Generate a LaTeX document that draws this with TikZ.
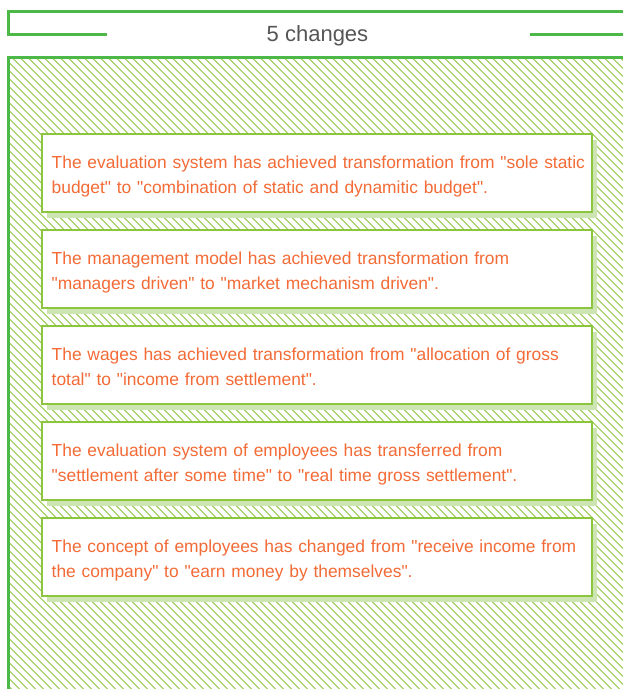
\documentclass[tikz,border=0pt]{standalone}
\usepackage{fontspec}
\setmainfont{Liberation Sans}[Ligatures=TeXOff]
\usetikzlibrary{shadows}
\definecolor{framec}{HTML}{4CB848}
\definecolor{boxc}{HTML}{8CC63F}
\definecolor{shadowc}{HTML}{CDE5B2}
\definecolor{hatchc}{HTML}{8CC63F}
\definecolor{textc}{HTML}{F36B36}
\definecolor{titlec}{HTML}{555555}
\tikzset{
  framel/.style={draw=framec, line width=3pt},
  hatchl/.style={draw=hatchc, line width=0.9pt},
  itembox/.style={draw=boxc, fill=white, line width=2.5pt, minimum width=550pt, minimum height=78pt, anchor=north west, inner sep=0pt, outer sep=0pt,
    drop shadow={shadow xshift=5pt, shadow yshift=-6pt, fill=shadowc, opacity=1}},
  itemtxt/.style={anchor=base west, inner sep=0pt, text=textc, text width=545pt, align=left, font=\fontsize{17.4pt}{25pt}\selectfont},
  titletxt/.style={anchor=base, inner sep=0pt, text=titlec, font=\fontsize{22pt}{26pt}\selectfont}
}
\begin{document}
\begin{tikzpicture}[x=1pt,y=-1pt]
\useasboundingbox (0,0) rectangle (623,689);
\begin{scope}
\clip (0,0) rectangle (623,689);
% header
\draw[framel] (107,34) -- (8,34) -- (8,11.5) -- (640,11.5);
\draw[framel] (530,34) -- (640,34);
\node[titletxt] (title) at (317.5,41) {5 changes};
% hatched main frame
\begin{scope}
\clip (8,57.5) rectangle (640,700);
\foreach \i in {-700,-692,...,640} \draw[hatchl] (\i,57.5) -- ++(700,700);
\end{scope}
\draw[framel] (640,57.5) -- (8,57.5) -- (8,700);
\end{scope}
% boxes
\node[itembox] (b1) at (42,134) {};
\node[itembox] (b2) at (42,230) {};
\node[itembox] (b3) at (42,326) {};
\node[itembox] (b4) at (42,422) {};
\node[itembox] (b5) at (42,518) {};
% texts
\node[itemtxt] (t1) at (51.5,168) {The evaluation system has achieved transformation from "sole static\\budget" to "combination of static and dynamitic budget".};
\node[itemtxt] (t2) at (51.5,264) {The management model has achieved transformation from\\"managers driven" to "market mechanism driven".};
\node[itemtxt] (t3) at (51.5,360) {The wages has achieved transformation from "allocation of gross\\total" to "income from settlement".};
\node[itemtxt] (t4) at (51.5,456) {The evaluation system of employees has transferred from\\"settlement after some time" to "real time gross settlement".};
\node[itemtxt] (t5) at (51.5,552) {The concept of employees has changed from "receive income from\\the company" to "earn money by themselves".};
\end{tikzpicture}
\end{document}
